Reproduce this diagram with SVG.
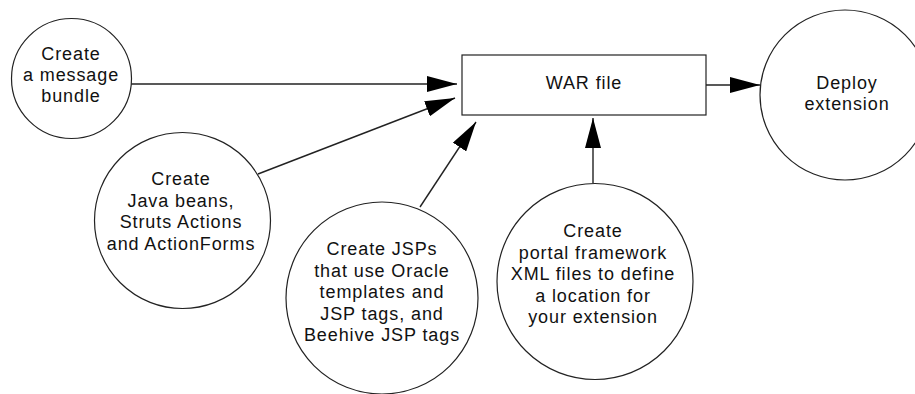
<svg xmlns="http://www.w3.org/2000/svg" width="915" height="394" viewBox="0 0 915 394">
<style>
.n{fill:#fff;stroke:#222;stroke-width:1.2}
.t{font-family:"Liberation Sans",Arial,sans-serif;font-size:18px;letter-spacing:0.9px;fill:#111;text-anchor:middle}
.c{stroke:#222;stroke-width:1.4;fill:none;marker-end:url(#ah)}
</style>
<defs>
<marker id="ah" markerUnits="userSpaceOnUse" markerWidth="30" markerHeight="16" refX="30" refY="8" orient="auto">
<path d="M0,0 L30,8 L0,16 z" fill="#000"/>
</marker>
</defs>
<rect width="915" height="394" fill="#fff"/>
<g id="connectors">
<line class="c" x1="131" y1="84" x2="457" y2="84"/>
<line class="c" x1="258" y1="174" x2="455" y2="98"/>
<line class="c" x1="420" y1="207" x2="476" y2="122"/>
<line class="c" x1="593" y1="183" x2="593" y2="118"/>
<line class="c" x1="706" y1="85" x2="760" y2="85"/>
</g>
<g id="message-bundle">
<circle class="n" cx="71.5" cy="78.5" r="60"/>
<text class="t" x="71" y="60">Create</text>
<text class="t" x="71" y="81">a message</text>
<text class="t" x="71" y="102">bundle</text>
</g>
<g id="java-beans">
<circle class="n" cx="182.5" cy="220.5" r="88"/>
<text class="t" x="181" y="185">Create</text>
<text class="t" x="181" y="206.5">Java beans,</text>
<text class="t" x="181" y="228">Struts Actions</text>
<text class="t" x="181" y="249.5">and ActionForms</text>
</g>
<g id="jsps">
<circle class="n" cx="382" cy="298" r="96"/>
<text class="t" x="382" y="255">Create JSPs</text>
<text class="t" x="382" y="276.5">that use Oracle</text>
<text class="t" x="382" y="298">templates and</text>
<text class="t" x="382" y="319.5">JSP tags, and</text>
<text class="t" x="382" y="341">Beehive JSP tags</text>
</g>
<g id="portal-xml">
<circle class="n" cx="595" cy="281.5" r="98"/>
<text class="t" x="593" y="237">Create</text>
<text class="t" x="593" y="258.5">portal framework</text>
<text class="t" x="593" y="280">XML files to define</text>
<text class="t" x="593" y="301.5">a location for</text>
<text class="t" x="593" y="323">your extension</text>
</g>
<g id="war-file">
<rect class="n" x="462" y="55" width="244" height="60"/>
<text class="t" x="584" y="89">WAR file</text>
</g>
<g id="deploy">
<circle class="n" cx="845" cy="95" r="85"/>
<text class="t" x="847" y="89">Deploy</text>
<text class="t" x="847" y="110">extension</text>
</g>
</svg>
